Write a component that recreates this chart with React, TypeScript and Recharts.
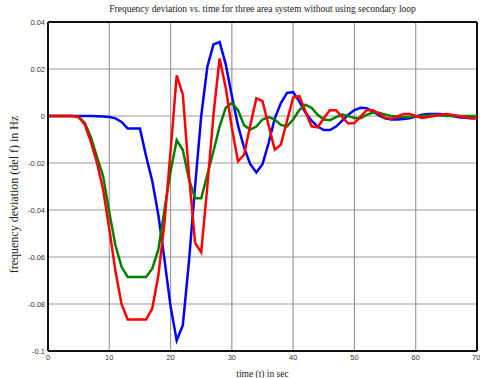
import React from 'react'
import {
  LineChart,
  Line,
  XAxis,
  YAxis,
  CartesianGrid,
  ReferenceLine,
} from 'recharts'

const TIME = Array.from({ length: 71 }, (_, i) => i)

const AREA1 = [
  0, 0, 0, 0, 0, 0, 0, 0, -0.0001, -0.0002,
  -0.0004, -0.001, -0.0025, -0.0053, -0.0053, -0.0053, -0.017, -0.0275, -0.042, -0.061,
  -0.081, -0.0955, -0.089, -0.062, -0.03, 0.0, 0.021, 0.0305, 0.0315, 0.022,
  0.0085, -0.004, -0.0135, -0.0205, -0.024, -0.0205, -0.0115, -0.001, 0.0055, 0.0098,
  0.0102, 0.0062, 0.0015, -0.002, -0.0045, -0.006, -0.006, -0.0045, -0.002, 0.0005,
  0.0025, 0.0035, 0.0033, 0.002, 0.0003, -0.001, -0.0015, -0.0015, -0.0013, -0.001,
  -0.0002, 0.0005, 0.0008, 0.0008, 0.0008, 0.0004, 0, -0.0005, -0.0008, -0.001,
  -0.0008,
]

const AREA2 = [
  0, 0, 0, 0, 0, -0.0005, -0.0036, -0.011, -0.02, -0.0314,
  -0.048, -0.066, -0.08, -0.0866, -0.0866, -0.0866, -0.0866, -0.082, -0.068, -0.0456,
  -0.015, 0.0173, 0.0092, -0.025, -0.054, -0.058, -0.03, 0.0005, 0.0245, 0.012,
  -0.005, -0.0193, -0.0165, -0.004, 0.0075, 0.0063, -0.004, -0.0143, -0.0122, -0.002,
  0.0078, 0.0085, 0.002, -0.0044, -0.0048, -0.001, 0.0025, 0.0025, -0.0005, -0.0032,
  -0.003, -0.0003, 0.0025, 0.0025, 0.001, -0.0008, -0.0012, -0.0002, 0.0009, 0.0009,
  0, -0.0008, -0.0004, 0, 0.0005, 0.0008, 0.0004, 0, -0.0005, -0.001,
  -0.001,
]

const AREA3 = [
  0, 0, 0, 0, 0, -0.0003, -0.003, -0.009, -0.0175, -0.0257,
  -0.041, -0.055, -0.0642, -0.0685, -0.0685, -0.0685, -0.0685, -0.065, -0.057, -0.04,
  -0.0236, -0.0103, -0.0145, -0.027, -0.035, -0.035, -0.025, -0.015, -0.0044, 0.0035,
  0.0055, 0.0025, -0.004, -0.0058, -0.0045, -0.0015, -0.0005, -0.0015, -0.0038, -0.0044,
  -0.0015, 0.0025, 0.0048, 0.0035, 0.0005, -0.0015, -0.0018, -0.0005, 0.0006, 0,
  -0.0009, -0.001, 0.0005, 0.0015, 0.0014, 0.0006, 0, -0.0003, -0.0004, -0.0004,
  -0.0002, 0, 0.0002, 0.0003, 0.0002, 0, 0, 0, 0, 0,
  0,
]

const X_TICKS = [0, 10, 20, 30, 40, 50, 60, 70]
const Y_TICKS = [0.04, 0.02, 0, -0.02, -0.04, -0.06, -0.08, -0.1]

const data = TIME.map((t, i) => ({
  t,
  a1: AREA1[i],
  a2: AREA2[i],
  a3: AREA3[i],
}))

const tickStyle = { fontFamily: 'Liberation Sans, Arial, sans-serif', fontSize: 7.5, fill: '#333' }
const serif = 'Liberation Serif, Times New Roman, serif'

export default function App() {
  return (
    <div style={{ position: 'absolute', left: 0, top: 0, width: 480, height: 378, background: '#fff' }}>
      <div
        style={{
          position: 'absolute',
          left: 48,
          width: 429,
          top: 4,
          textAlign: 'center',
          fontFamily: serif,
          fontSize: 9.5,
          color: '#222',
        }}
      >
        Frequency deviation vs. time for three area system without using secondary loop
      </div>
      <LineChart
        width={480}
        height={378}
        data={data}
        margin={{ top: 22, right: 3, left: 0, bottom: 0 }}
      >
        <CartesianGrid stroke="#999" strokeWidth={1.2} />
        <XAxis
          dataKey="t"
          type="number"
          domain={[0, 70]}
          ticks={X_TICKS}
          height={27}
          tickSize={0}
          tickMargin={4}
          tick={tickStyle}
          stroke="#111"
          strokeWidth={2}
          label={{
            value: 'time (t) in sec',
            position: 'insideBottom',
            offset: 1,
            style: { fontFamily: serif, fontSize: 9.5, fill: '#222' },
          }}
        />
        <YAxis
          type="number"
          domain={[-0.1, 0.04]}
          ticks={Y_TICKS}
          width={48}
          tickSize={0}
          tickMargin={3}
          tick={tickStyle}
          stroke="#111"
          strokeWidth={2}
          allowDataOverflow
          label={{
            value: 'frequency deviation (del f) in Hz',
            angle: -90,
            position: 'insideLeft',
            offset: 14,
            dy: 8,
            style: { textAnchor: 'middle', fontFamily: serif, fontSize: 12, fill: '#222' },
          }}
        />
        <ReferenceLine y={0.04} stroke="#111" strokeWidth={2} />
        <ReferenceLine x={70} stroke="#111" strokeWidth={2} />
        <Line dataKey="a1" stroke="#0000ff" strokeWidth={2.5} dot={false} isAnimationActive={false} />
        <Line dataKey="a3" stroke="#008000" strokeWidth={2.5} dot={false} isAnimationActive={false} />
        <Line dataKey="a2" stroke="#ff0000" strokeWidth={2.5} dot={false} isAnimationActive={false} />
      </LineChart>
    </div>
  )
}
